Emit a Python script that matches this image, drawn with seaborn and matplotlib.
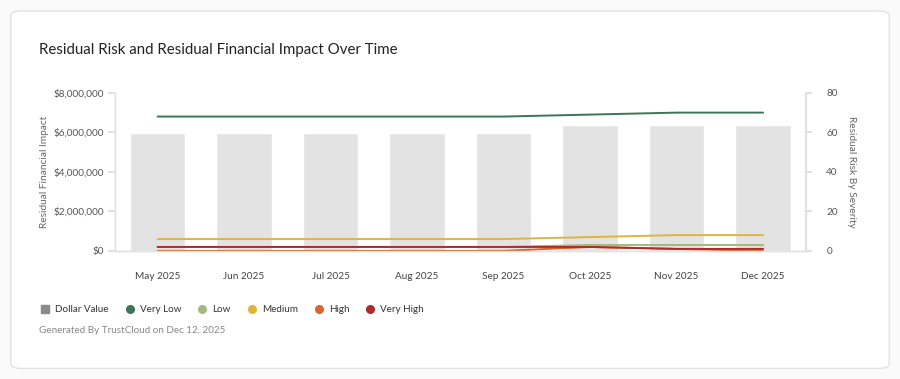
import numpy as np
import pandas as pd
import matplotlib
matplotlib.use("Agg")
import matplotlib.pyplot as plt
from matplotlib.lines import Line2D
from matplotlib.patches import FancyBboxPatch
from matplotlib.ticker import FuncFormatter
import seaborn as sns

months = ["May 2025", "Jun 2025", "Jul 2025", "Aug 2025", "Sep 2025", "Oct 2025", "Nov 2025", "Dec 2025"]
dollar_value = [5950000, 5950000, 5950000, 5950000, 5950000, 6350000, 6350000, 6350000]
very_low = [68, 68, 68, 68, 68, 69, 70, 70]
low = [2, 2, 2, 2, 2, 3, 3, 3]
medium = [6, 6, 6, 6, 6, 7, 8, 8]
high = [0, 0, 0, 0, 0, 2, 1, 0]
very_high = [2, 2, 2, 2, 2, 2, 1, 1]

severities = ["Very Low", "Low", "Medium", "High", "Very High"]
sev_colors = ["#3b7658", "#a3b97e", "#e0b53c", "#d8662c", "#b0292b"]

sns.set_theme(style="white")
plt.rcParams["font.family"] = ["Lato", "DejaVu Sans"]

fig = plt.figure(figsize=(9, 3.79), dpi=100)
card = FancyBboxPatch((0.012, 0.028), 0.976, 0.943, boxstyle="round,pad=0,rounding_size=0.012",
                      transform=fig.transFigure, facecolor="white", edgecolor="#e2e2e2", lw=1, zorder=-5)
fig.patches.append(card)

ax = fig.add_axes([0.128, 0.338, 0.767, 0.417])
ax.set_facecolor("none")
bars = pd.DataFrame({"month": months, "value": dollar_value})
sns.barplot(data=bars, x="month", y="value", color="#e3e3e3", saturation=1, width=0.64, ax=ax)
ax.set_ylim(0, 8000000)
ax.set_yticks([0, 2000000, 4000000, 6000000, 8000000])
ax.yaxis.set_major_formatter(FuncFormatter(lambda v, p: f"${v:,.0f}"))
ax.set_xlim(-0.49, 7.49)
ax.set_xlabel("")
ax.set_ylabel("Residual Financial Impact", fontsize=7.3, color="#666666", labelpad=3)
ax.tick_params(axis="x", labelsize=7.2, colors="#444444", length=0, pad=15)
ax.tick_params(axis="y", labelsize=7.2, colors="#555555", length=5, color="#dddddd", pad=3)

ax2 = ax.twinx()
lines = pd.DataFrame({"pos": np.arange(len(months)), "Very Low": very_low, "Low": low,
                      "Medium": medium, "High": high, "Very High": very_high})
long = lines.melt(id_vars="pos", var_name="severity", value_name="count")
sns.lineplot(data=long, x="pos", y="count", hue="severity", hue_order=severities,
             palette=sev_colors, linewidth=1.4, legend=False, ax=ax2)
ax2.set_ylim(0, 80)
ax2.set_yticks([0, 20, 40, 60, 80])
ax2.set_xlim(-0.49, 7.49)
ax2.set_ylabel("Residual Risk By Severity", fontsize=7.3, color="#666666", rotation=270, labelpad=13)
ax2.tick_params(axis="y", labelsize=7.2, colors="#555555", length=5, color="#dddddd", pad=10)

for a in (ax, ax2):
    a.spines["top"].set_visible(False)
    for side in ["left", "right", "bottom"]:
        a.spines[side].set_color("#e2e2e2")
        a.spines[side].set_linewidth(1)

fig.text(0.043, 0.868, "Residual Risk and Residual Financial Impact Over Time",
         fontsize=10.8, color="#222222", va="center")

handles = [Line2D([], [], marker="s", linestyle="", color="#8a8a8a", markersize=5.5)]
handles += [Line2D([], [], marker="o", linestyle="", color=c, markersize=5.5) for c in sev_colors]
fig.legend(handles, ["Dollar Value"] + severities, loc="center left", bbox_to_anchor=(0.036, 0.183),
           ncol=6, frameon=False, fontsize=7.1, handlelength=0.8, handletextpad=0.6,
           columnspacing=1.75, labelcolor="#333333")

fig.text(0.043, 0.127, "Generated By TrustCloud on Dec 12, 2025", fontsize=7.1, color="#888888", va="center")

fig.savefig("out.png", dpi=100, facecolor="#fafafa")
